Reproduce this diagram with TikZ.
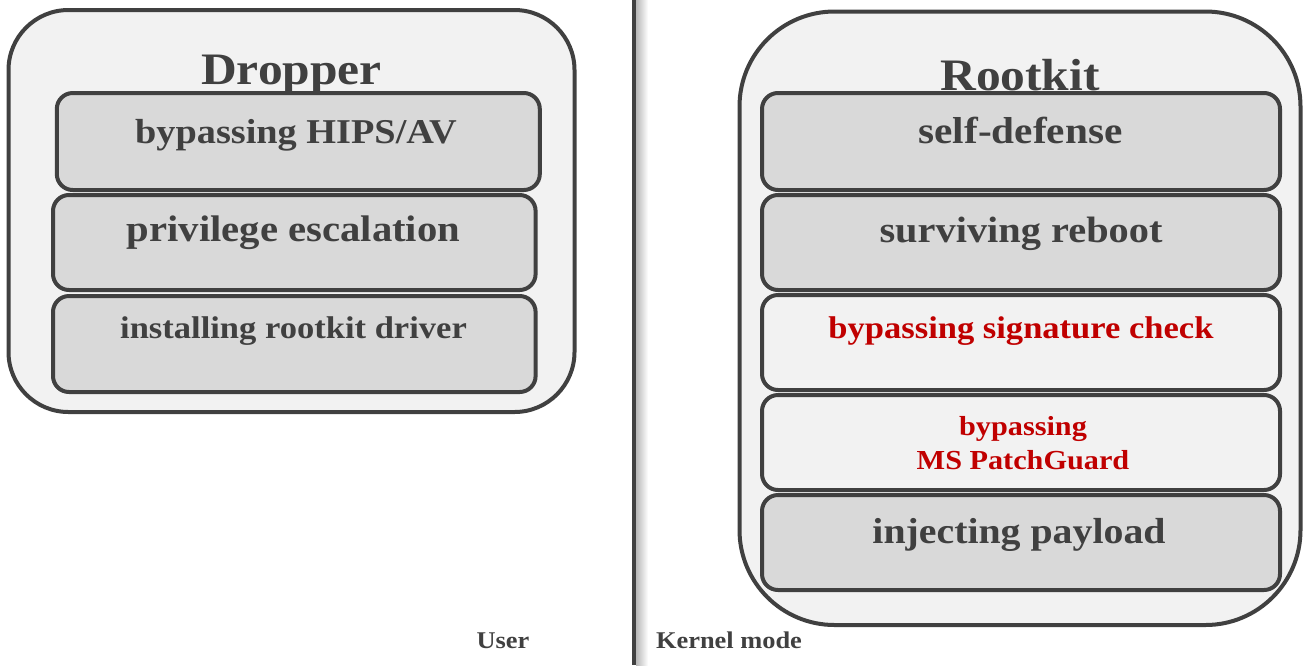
\documentclass[tikz,border=0pt]{standalone}
\usepackage{fontspec}
\setmainfont{Liberation Serif}[FakeStretch=1.1]
\definecolor{ink}{HTML}{404040}
\definecolor{panel}{HTML}{F2F2F2}
\definecolor{layer}{HTML}{D9D9D9}
\definecolor{alert}{HTML}{C00000}
\newcommand{\fs}[1]{\fontsize{#1}{1.2\dimexpr#1pt\relax}\selectfont}
\begin{document}
\begin{tikzpicture}[x=1pt,y=-1pt,
  group/.style={draw=ink, line width=4pt, fill=panel, inner sep=0pt},
  layerbox/.style={draw=ink, line width=4pt, rounded corners=16pt, fill=layer,
    inner sep=0pt, minimum height=95pt},
  lightbox/.style={layerbox, fill=panel},
  lbl/.style={anchor=base, inner sep=0pt, text=ink, font=\bfseries},
]
\useasboundingbox (0,0) rectangle (1303,665);

% user / kernel divider with its soft shadow
\shade[left color=black!28, right color=white] (636,0) rectangle (648,665);
\coordinate (divtop) at (634,0);
\coordinate (divbot) at (634,665);
\draw[ink, line width=4pt] (divtop) -- (divbot);

% dropper (user mode)
\node[group, rounded corners=60pt, minimum width=566pt, minimum height=402pt]
  (dropper) at (291.5,211) {};
\node[layerbox, minimum width=483pt, minimum height=97pt] (d1) at (298.3,141.5) {};
\node[layerbox, minimum width=482.6pt] (d2) at (294.3,242.5) {};
\node[layerbox, minimum width=482.6pt, minimum height=96pt] (d3) at (294.3,344) {};
\node[lbl, font=\bfseries\fs{45}] (dtitle) at (291.5,84) {Dropper};
\node[lbl, font=\bfseries\fs{34.8}] at (296,143) {bypassing HIPS/AV};
\node[lbl, font=\bfseries\fs{37}] at (293.5,241) {privilege escalation};
\node[lbl, font=\bfseries\fs{31.4}] at (293.5,338) {installing rootkit driver};

% rootkit (kernel mode)
\node[group, rounded corners=95pt, minimum width=561pt, minimum height=613.5pt]
  (rootkit) at (1020,318.25) {};
\node[layerbox, minimum width=518pt, minimum height=97pt] (r1) at (1021,141.5) {};
\node[layerbox, minimum width=518pt] (r2) at (1021,242.5) {};
\node[lightbox, minimum width=518pt] (r3) at (1021,342.5) {};
\node[lightbox, minimum width=518pt] (r4) at (1021,442.5) {};
\node[layerbox, minimum width=518pt] (r5) at (1021,542.5) {};
\node[lbl, font=\bfseries\fs{45}] (rtitle) at (1020,90) {Rootkit};
\node[lbl, font=\bfseries\fs{37.5}] at (1020.5,143) {self-defense};
\node[lbl, font=\bfseries\fs{36.7}] at (1021,242) {surviving reboot};
\node[lbl, text=alert, font=\bfseries\fs{31.4}] at (1021,338) {bypassing signature check};
\node[lbl, text=alert, font=\bfseries\fs{27.5}] at (1023,435) {bypassing};
\node[lbl, text=alert, font=\bfseries\fs{27.5}] at (1023,469) {MS PatchGuard};
\node[lbl, font=\bfseries\fs{36.2}] at (1019,543) {injecting payload};

% mode labels
\node[lbl, font=\bfseries\fs{24}] (user) at (503,648) {User};
\node[lbl, font=\bfseries\fs{24}] (kernel) at (729,648) {Kernel mode};
\end{tikzpicture}
\end{document}
